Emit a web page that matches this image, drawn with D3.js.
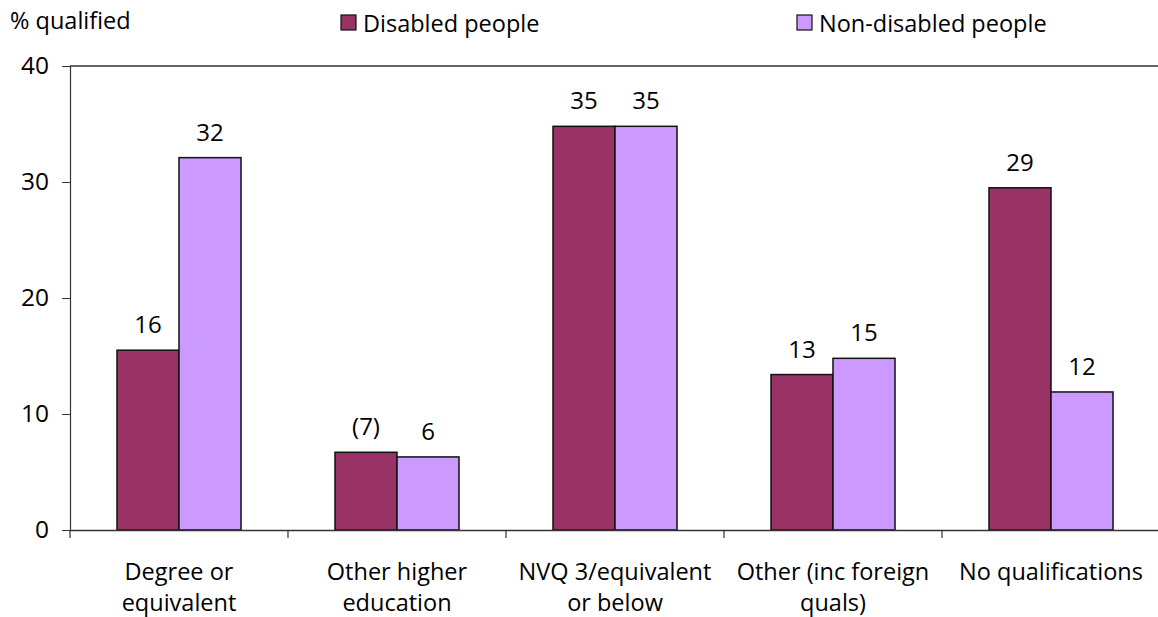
<!DOCTYPE html>
<html>
<head>
<meta charset="utf-8">
<script src="https://cdn.jsdelivr.net/npm/d3@7"></script>
<style>
  html, body { margin: 0; padding: 0; background: #fff; }
  svg text { font-family: "Open Sans", "Noto Sans", sans-serif; fill: #000; }
</style>
</head>
<body>
<svg id="chart" width="1158" height="617"></svg>
<script>
const categories = [["Degree or", "equivalent"], ["Other higher", "education"], ["NVQ 3/equivalent", "or below"], ["Other (inc foreign", "quals)"], ["No qualifications"]];
const seriesNames = ["Disabled people", "Non-disabled people"];
const disabledValues = [15.5, 6.7, 34.8, 13.4, 29.5];
const nonDisabledValues = [32.1, 6.3, 34.8, 14.8, 11.9];
const disabledLabels = ["16", "(7)", "35", "13", "29"];
const nonDisabledLabels = ["32", "6", "35", "15", "12"];
const yTicks = [0, 10, 20, 30, 40];
const colors = ["#993366", "#CC99FF"];

(function () {
const svg = d3.select("#chart");
const mLeft = 70, mRight = 1160, mTop = 66, mBottom = 530;
const fs = 23.5;

const x = d3.scaleBand().domain(d3.range(categories.length)).range([mLeft, mRight]).paddingInner(0).paddingOuter(0);
const y = d3.scaleLinear().domain([0, 40]).range([mBottom, mTop]);
const groupW = 124;
const xs = d3.scaleBand().domain([0, 1]).range([0, groupW]);

// top border line
svg.append("line").attr("x1", mLeft).attr("x2", mRight).attr("y1", y(40)).attr("y2", y(40))
  .attr("stroke", "#333").attr("stroke-width", 1.5);

// Y axis
const yAxis = d3.axisLeft(y).tickValues(yTicks).tickSize(8).tickPadding(13);
const gy = svg.append("g").attr("transform", `translate(${mLeft},0)`).call(yAxis);
gy.select(".domain").attr("stroke", "#333").attr("stroke-width", 1.2);
gy.selectAll(".tick line").attr("stroke", "#333");
gy.selectAll(".tick text").attr("font-size", fs + 1).attr("font-family", '"Open Sans", sans-serif').attr("fill", "#000");

// bars
const series = [disabledValues, nonDisabledValues];
const labels = [disabledLabels, nonDisabledLabels];
series.forEach((vals, s) => {
  const g = svg.append("g");
  g.selectAll("rect").data(vals).join("rect")
    .attr("x", (d, i) => x(i) + (x.bandwidth() - groupW) / 2 + xs(s))
    .attr("y", d => y(d))
    .attr("width", xs.bandwidth())
    .attr("height", d => y(0) - y(d))
    .attr("fill", colors[s])
    .attr("stroke", "#111").attr("stroke-width", 1.5);
  g.selectAll("text").data(vals).join("text")
    .attr("x", (d, i) => x(i) + (x.bandwidth() - groupW) / 2 + xs(s) + xs.bandwidth() / 2)
    .attr("y", d => y(d) - 17)
    .attr("text-anchor", "middle")
    .attr("font-size", fs + 0.5)
    .text((d, i) => labels[s][i]);
});

// X axis
const xAxis = d3.axisBottom(x).tickSize(0).tickFormat("");
const gx = svg.append("g").attr("transform", `translate(0,${mBottom})`).call(xAxis);
gx.select(".domain").attr("stroke", "#333").attr("stroke-width", 1.5);
// boundary ticks between categories
const bounds = d3.range(categories.length + 1).map(i => mLeft + i * x.step());
svg.append("g").selectAll("line").data(bounds).join("line")
  .attr("x1", d => d).attr("x2", d => d)
  .attr("y1", mBottom).attr("y2", mBottom + 8)
  .attr("stroke", "#333").attr("stroke-width", 1.2);

// category labels
categories.forEach((lines, i) => {
  const t = svg.append("text").attr("text-anchor", "middle").attr("font-size", fs);
  lines.forEach((ln, k) => {
    t.append("tspan").attr("x", x(i) + x.bandwidth() / 2).attr("y", 580 + k * 31).text(ln);
  });
});

// y title
svg.append("text").attr("x", 10).attr("y", 29).attr("font-size", fs).text("% qualified");

// legend
const legendX = [341, 797];
seriesNames.forEach((n, s) => {
  svg.append("rect").attr("x", legendX[s]).attr("y", 15).attr("width", 15).attr("height", 15)
    .attr("fill", colors[s]).attr("stroke", "#111").attr("stroke-width", 1.2);
  svg.append("text").attr("x", legendX[s] + 22).attr("y", 32).attr("font-size", fs).text(n);
});
})();
</script>
</body>
</html>
